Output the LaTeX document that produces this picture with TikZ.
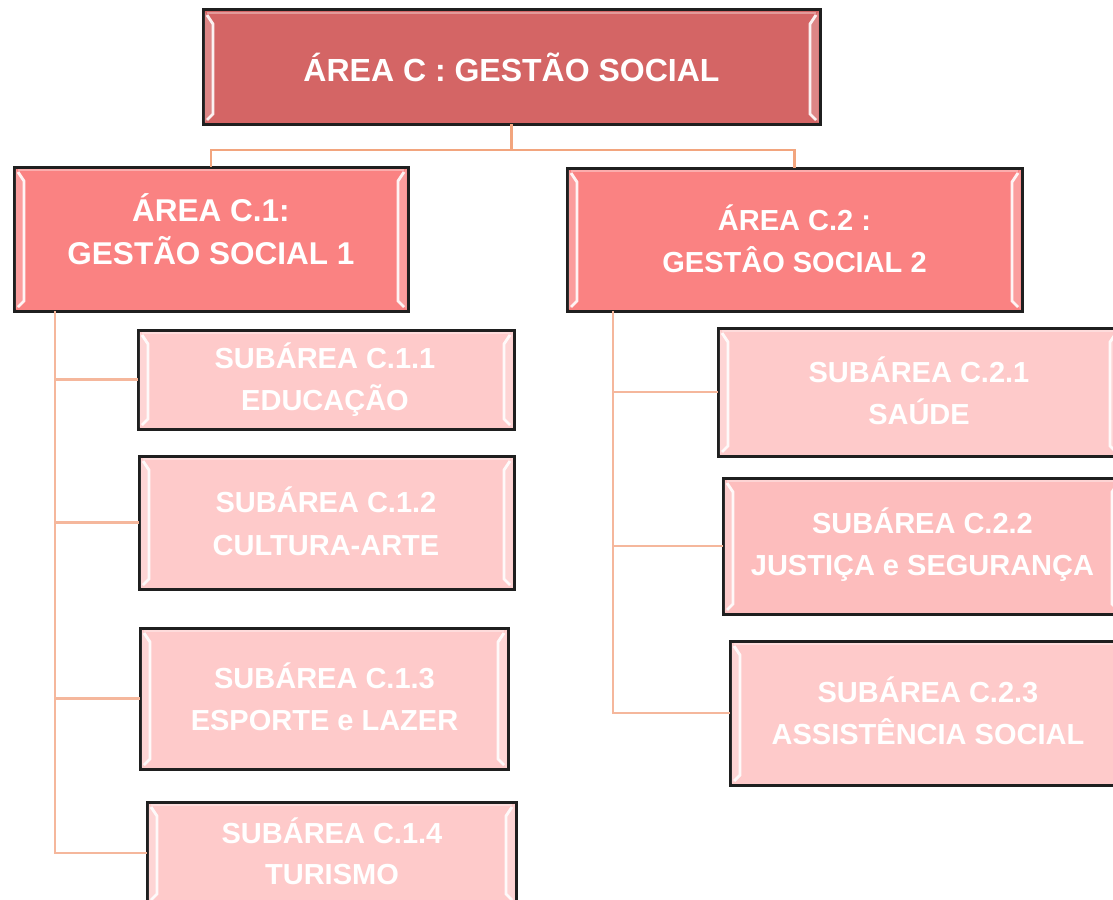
\documentclass[tikz,border=0pt]{standalone}
\usepackage{fontspec}
\setmainfont{Liberation Sans}
\definecolor{topfill}{HTML}{D46565}
\definecolor{midfill}{HTML}{FA8282}
\definecolor{lowfill}{HTML}{FECACA}
\definecolor{lowfillb}{HTML}{FDBDBD}
\definecolor{conora}{HTML}{F2A57E}
\definecolor{conorb}{HTML}{F5B79C}
\newcommand\bvl[1]{%
  \fill[white,opacity=.22] ([shift={(1.5pt,-1.5pt)}]#1.north west) -- ([shift={(10pt,-14pt)}]#1.north west) -- ([shift={(10pt,10pt)}]#1.south west) -- ([shift={(1.5pt,1.5pt)}]#1.south west) -- cycle;
  \draw[white,opacity=.9,line width=2.8pt] ([shift={(4pt,-5pt)}]#1.north west) -- ([shift={(10pt,-14pt)}]#1.north west) -- ([shift={(10pt,10pt)}]#1.south west) -- ([shift={(4pt,4pt)}]#1.south west);
  \fill[white,opacity=.22] ([shift={(-1.5pt,-1.5pt)}]#1.north east) -- ([shift={(-10pt,-14pt)}]#1.north east) -- ([shift={(-10pt,10pt)}]#1.south east) -- ([shift={(-1.5pt,1.5pt)}]#1.south east) -- cycle;
  \draw[white,opacity=.9,line width=2.8pt] ([shift={(-4pt,-5pt)}]#1.north east) -- ([shift={(-10pt,-14pt)}]#1.north east) -- ([shift={(-10pt,10pt)}]#1.south east) -- ([shift={(-4pt,4pt)}]#1.south east);
  \draw[white,opacity=.35,line width=2pt] ([shift={(4pt,-3pt)}]#1.north west) -- ([shift={(-4pt,-3pt)}]#1.north east);
}
\begin{document}
\begin{tikzpicture}[x=1pt,y=-1pt,
  box/.style={draw=black!88,line width=3pt,rectangle,inner sep=0pt,outer sep=0pt,anchor=north west},
  txt/.style={text=white,align=center,inner sep=0pt,font=\bfseries},
  conA/.style={draw=conora,line width=2.6pt},
  conB/.style={draw=conorb,line width=2.2pt}]
\useasboundingbox (0,0) rectangle (1113,899);
\clip (0,0) rectangle (1113,899);
\fill[white] (0,0) rectangle (1113,899);

% boxes
\node[box,fill=topfill,minimum width=617pt,minimum height=114pt] (top) at (203,10) {};
\node[box,fill=midfill,minimum width=394pt,minimum height=144pt] (c1) at (14,167) {};
\node[box,fill=midfill,minimum width=455pt,minimum height=143pt] (c2) at (567,168) {};
\node[box,fill=lowfill,minimum width=376pt,minimum height=99pt] (c11) at (138,330) {};
\node[box,fill=lowfill,minimum width=375pt,minimum height=133pt] (c12) at (139,456) {};
\node[box,fill=lowfill,minimum width=368pt,minimum height=141pt] (c13) at (140,628) {};
\node[box,fill=lowfill,minimum width=369pt,minimum height=102pt] (c14) at (147,802) {};
\node[box,fill=lowfill,minimum width=402pt,minimum height=128pt] (c21) at (718,328) {};
\node[box,fill=lowfillb,minimum width=399pt,minimum height=136pt] (c22) at (723,478) {};
\node[box,fill=lowfill,minimum width=396pt,minimum height=144pt] (c23) at (730,641) {};

\foreach \b in {top,c1,c2,c11,c12,c13,c14,c21,c22,c23} {\bvl{\b}}

% connectors
\draw[conA] (top.south) -- ++(0,26) -| (c1.north);
\draw[conA] (top.south) -- ++(0,26) -| (c2.north);
\coordinate (t1) at ([xshift=41pt]c1.south west);
\coordinate (t2) at ([xshift=46pt]c2.south west);
\draw[conB] (t1) |- (c11.west);
\draw[conB] (t1) |- (c12.west);
\draw[conB] (t1) |- (c13.west);
\draw[conB] (t1) |- (c14.west);
\draw[conB] (t2) |- (c21.west);
\draw[conB] (t2) |- (c22.west);
\draw[conB] (t2) |- (c23.west);

% texts
\node[txt,font=\fontsize{32}{42}\selectfont\bfseries] (toptxt) at (511.5,67) {ÁREA C : GESTÃO SOCIAL};
\node[txt,font=\fontsize{31.5}{43}\selectfont\bfseries] (c1txt) at (211,229.5) {ÁREA C.1:\\GESTÃO SOCIAL 1};
\node[txt,font=\fontsize{29}{42}\selectfont\bfseries] (c2txt) at (794.5,239) {ÁREA C.2 :\\GESTÂO SOCIAL 2};
\node[txt,font=\fontsize{29}{42}\selectfont\bfseries] (c11txt) at (325,379.5) {SUBÁREA C.1.1\\EDUCAÇÃO};
\node[txt,font=\fontsize{29}{43}\selectfont\bfseries] (c12txt) at (326,521) {SUBÁREA C.1.2\\CULTURA-ARTE};
\node[txt,font=\fontsize{29}{42}\selectfont\bfseries] (c13txt) at (324.5,697) {SUBÁREA C.1.3\\ESPORTE e LAZER};
\node[txt,font=\fontsize{29}{41}\selectfont\bfseries] (c14txt) at (332,851) {SUBÁREA C.1.4\\TURISMO};
\node[txt,font=\fontsize{29}{42}\selectfont\bfseries] (c21txt) at (919,391) {SUBÁREA C.2.1\\SAÚDE};
\node[txt,font=\fontsize{29}{42}\selectfont\bfseries] (c22txt) at (922.5,545) {SUBÁREA C.2.2\\JUSTIÇA e SEGURANÇA};
\node[txt,font=\fontsize{29}{42}\selectfont\bfseries] (c23txt) at (928,711) {SUBÁREA C.2.3\\ASSISTÊNCIA SOCIAL};
\end{tikzpicture}
\end{document}
